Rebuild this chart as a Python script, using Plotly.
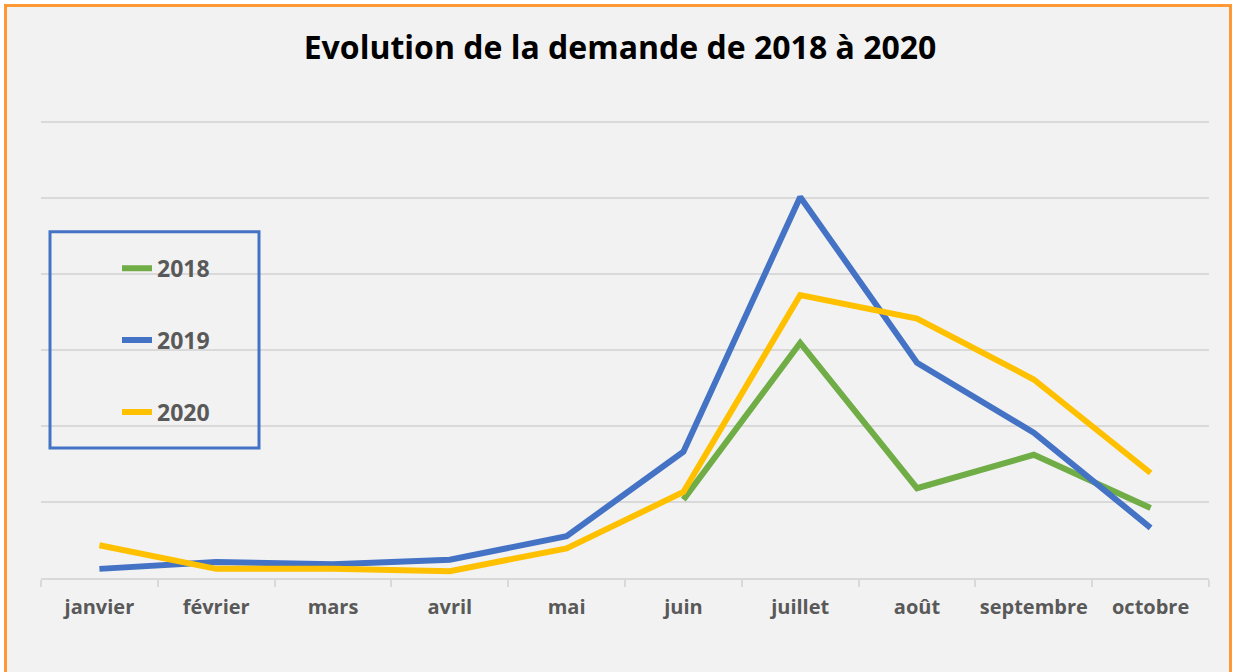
import plotly.graph_objects as go

mois = ["janvier", "février", "mars", "avril", "mai", "juin", "juillet", "août", "septembre", "octobre"]
v2018 = [None, None, None, None, None, 103, 309, 118, 162, 92]
v2019 = [12, 21, 18, 24, 55, 166, 501, 283, 191, 66]
v2020 = [43, 12, 12, 9, 39, 113, 372, 341, 261, 138]
series = [("2018", v2018, "#70ad47"), ("2019", v2019, "#4472c4"), ("2020", v2020, "#ffc000")]

W, H = 1233, 672
YMAX = 610
UNIT = (578 - 122) / 600.0  # pixels per value unit
L, R = 41, 1233 - 1209
B = H - 578
T = 578 - UNIT * YMAX
pw, ph = W - L - R, H - T - B

def px(x):
    return (x - L) / pw

def py(y):
    return (H - B - y) / ph

fig = go.Figure()
for name, vals, col in series:
    fig.add_trace(go.Scatter(x=mois, y=vals, name=name, mode="lines", legendgroup=name,
                             line=dict(color=col, width=6), connectgaps=False))

FONT = "Open Sans"
fig.update_layout(
    width=W, height=H,
    margin=dict(l=L, r=R, t=T, b=B, autoexpand=False),
    paper_bgcolor="#ffffff", plot_bgcolor="rgba(0,0,0,0)",
    title=dict(text="Evolution de la demande de 2018 à 2020", x=620 / W, xanchor="center",
               y=1 - 48 / H, yanchor="middle",
               font=dict(family=FONT, size=32, color="#000000", weight="bold")),
    xaxis=dict(showgrid=False, showline=True, linecolor="#d9d9d9", linewidth=2,
               ticks="outside", tickson="boundaries", ticklen=7, tickcolor="#d9d9d9", tickwidth=2,
               tickfont=dict(family=FONT, size=20, color="#595959", weight="bold"),
               tickangle=0, automargin=False,
               ticklabelstandoff=10, range=[-0.5, 9.5]),
    yaxis=dict(range=[0, YMAX], tickvals=[100, 200, 300, 400, 500, 600], showgrid=True,
               gridcolor="#d9d9d9", gridwidth=2, automargin=False,
               showticklabels=False, zeroline=False, showline=False, ticks=""),
    legend=dict(x=px(117), xanchor="left", y=py(247), yanchor="top",
                bgcolor="rgba(0,0,0,0)", borderwidth=0, tracegroupgap=39,
                font=dict(family=FONT, size=23, color="#595959", weight="bold")),
    showlegend=True,
    shapes=[
        dict(type="rect", xref="paper", yref="paper", x0=px(5.5), x1=px(1230.5), y0=py(720), y1=py(6),
             line=dict(color="#ff9933", width=3), fillcolor="#f2f2f2", layer="below"),
        dict(type="rect", xref="paper", yref="paper", x0=px(50), x1=px(259), y0=py(448), y1=py(232),
             line=dict(color="#4472c4", width=3), fillcolor="rgba(0,0,0,0)", layer="above"),
    ],
)

fig.write_html("out.html", config={"displayModeBar": False},
               post_script="document.body.style.margin='0';document.body.style.overflow='hidden';")
